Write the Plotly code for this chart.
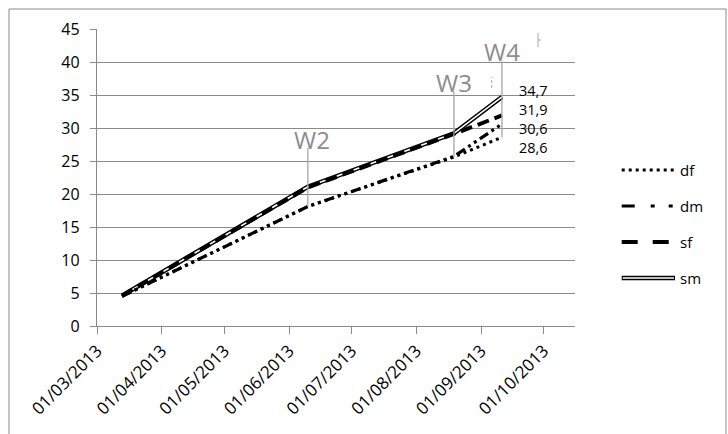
import plotly.graph_objects as go

# ---------------- data ----------------
dates = ["2013-03-13", "2013-06-10", "2013-08-19", "2013-09-11"]
df_vals = [4.5, 18.1, 25.6, 28.6]
dm_vals = [4.5, 18.1, 25.7, 30.6]
sf_vals = [4.6, 21.0, 29.1, 31.9]
sm_vals = [4.6, 21.1, 29.2, 34.7]

series_names = ["df", "dm", "sf", "sm"]

wave_names = ["W2", "W3", "W4"]
wave_dates = ["2013-06-10", "2013-08-19", "2013-09-11"]

tick_dates = ["2013-03-01", "2013-04-01", "2013-05-01", "2013-06-01",
              "2013-07-01", "2013-08-01", "2013-09-01", "2013-10-01"]
tick_text = ["01/03/2013", "01/04/2013", "01/05/2013", "01/06/2013",
             "01/07/2013", "01/08/2013", "01/09/2013", "01/10/2013"]

# ---------------- layout constants ----------------
W, H = 728, 434
ML, MR, MT, MB = 97, 153, 29, 108
PW, PH = W - ML - MR, H - MT - MB
GRID = "#8a8a8a"
FONT = "Open Sans"

STYLES = {
    "df": dict(color="black", width=3, dash="3px,4px"),
    "dm": dict(color="black", width=3.2, dash="10px,4px,3px,4px,3px,4px"),
    "sf": dict(color="black", width=4, dash="12px,6px"),
}
LEGEND_DASH = {
    "df": "3px,4px",
    "dm": "13px,16px,4px,14px,4px,20px",
    "sf": "16px,15px",
}


def px(x):
    return (x - ML) / PW


def py(y):
    return (H - MB - y) / PH


values = {"df": df_vals, "dm": dm_vals, "sf": sf_vals, "sm": sm_vals}

fig = go.Figure()

# sm: double line (black outer + white inner), drawn first
fig.add_trace(go.Scatter(x=dates, y=sm_vals, mode="lines", name="sm",
                         line=dict(color="black", width=4.5)))
fig.add_trace(go.Scatter(x=dates, y=sm_vals, mode="lines", name="sm",
                         line=dict(color="white", width=1.6), hoverinfo="skip"))
for nm in ["sf", "dm", "df"]:
    fig.add_trace(go.Scatter(x=dates, y=values[nm], mode="lines", name=nm,
                             line=STYLES[nm]))

shapes = []
annotations = []

# white boxes of the callout text boxes hiding gridlines
for (x0, x1, y0, y1) in [(278, 349, 112, 148), (420, 485, 55, 92), (521, 538, 55, 70)]:
    shapes.append(dict(type="rect", xref="paper", yref="paper",
                       x0=px(x0), x1=px(x1), y0=py(y1), y1=py(y0),
                       fillcolor="white", line=dict(width=0), layer="between"))

# callout lines and labels
label_tops = [27.0, 35.5, 40.1]
label_y = [28.2, 36.9, 41.6]
label_xshift = [4, 0, 0]
for name, d, top, ly, xs in zip(wave_names, wave_dates, label_tops, label_y, label_xshift):
    yb = df_vals[dates.index(d)]
    shapes.append(dict(type="line", xref="x", yref="y", x0=d, x1=d, y0=yb, y1=top,
                       line=dict(color="#a6a6a6", width=1.3), layer="above"))
    annotations.append(dict(x=d, y=ly, xref="x", yref="y", text=name, showarrow=False,
                            xshift=xs, font=dict(family=FONT, size=24, color="#8c8c8c")))

# small remnants of other callouts
shapes.append(dict(type="line", xref="paper", yref="paper", x0=px(538), x1=px(538),
                   y0=py(47), y1=py(33), line=dict(color="#a6a6a6", width=1)))
shapes.append(dict(type="line", xref="paper", yref="paper", x0=px(538), x1=px(541),
                   y0=py(40), y1=py(40), line=dict(color="#a6a6a6", width=1)))
shapes.append(dict(type="line", xref="paper", yref="paper", x0=px(491.7), x1=px(491.7),
                   y0=py(88), y1=py(77), line=dict(color="#a6a6a6", width=1, dash="3px,2px")))

# outer chart border
shapes.append(dict(type="rect", xref="paper", yref="paper",
                   x0=px(9), x1=px(726), y0=py(440), y1=py(9),
                   line=dict(color=GRID, width=1), fillcolor="rgba(0,0,0,0)", layer="below"))

# end-point data labels (one stacked text block)
last_vals = [sm_vals[-1], sf_vals[-1], dm_vals[-1], df_vals[-1]]
annotations.append(dict(x=dates[-1], y=sum(last_vals) / 4, xref="x", yref="y",
                        text="<br>".join(f"{v:.1f}".replace(".", ",") for v in last_vals),
                        showarrow=False, xanchor="left", align="left", xshift=15, yshift=-1,
                        font=dict(family=FONT, size=14.5, color="black")))

# manual legend (symbols 53 px long, like the reference)
leg_x0, leg_x1, leg_text_x = 621.7, 675, 678
leg_y = [170, 206, 242, 278]
for nm, yy in zip(series_names, leg_y):
    if nm == "sm":
        shapes.append(dict(type="line", xref="paper", yref="paper", x0=px(leg_x0), x1=px(leg_x1),
                           y0=py(yy), y1=py(yy), line=dict(color="black", width=4.5)))
        shapes.append(dict(type="line", xref="paper", yref="paper", x0=px(leg_x0 + 1), x1=px(leg_x1 - 1),
                           y0=py(yy), y1=py(yy), line=dict(color="white", width=1.6)))
    else:
        shapes.append(dict(type="line", xref="paper", yref="paper", x0=px(leg_x0), x1=px(leg_x1),
                           y0=py(yy), y1=py(yy),
                           line=dict(color="black", width=STYLES[nm]["width"], dash=LEGEND_DASH[nm])))
    annotations.append(dict(x=px(leg_text_x), y=py(yy), xref="paper", yref="paper", text=nm,
                            showarrow=False, xanchor="left", yanchor="middle",
                            font=dict(family=FONT, size=15, color="black")))

fig.update_layout(
    width=W, height=H,
    margin=dict(l=ML, r=MR, t=MT, b=MB, pad=0),
    paper_bgcolor="white", plot_bgcolor="white",
    font=dict(family=FONT, size=15, color="black"),
    showlegend=False,
    shapes=shapes, annotations=annotations,
)
fig.update_xaxes(type="date", range=["2013-03-01", "2013-10-16"],
                 tickmode="array", tickvals=tick_dates, ticktext=tick_text,
                 tickangle=-45, showgrid=False, showline=True, linecolor=GRID,
                 linewidth=1.3, ticks="outside", ticklen=7, tickcolor=GRID,
                 tickfont=dict(family=FONT, size=17, color="black"), zeroline=False)
fig.update_yaxes(range=[0, 45], dtick=5, tick0=0, showgrid=True, gridcolor=GRID,
                 gridwidth=1.3, showline=True, linecolor=GRID, linewidth=1.3,
                 ticks="outside", ticklen=6, tickcolor=GRID, zeroline=False,
                 ticklabelstandoff=7,
                 tickfont=dict(family=FONT, size=16, color="black"))

fig.write_html("out.html")
